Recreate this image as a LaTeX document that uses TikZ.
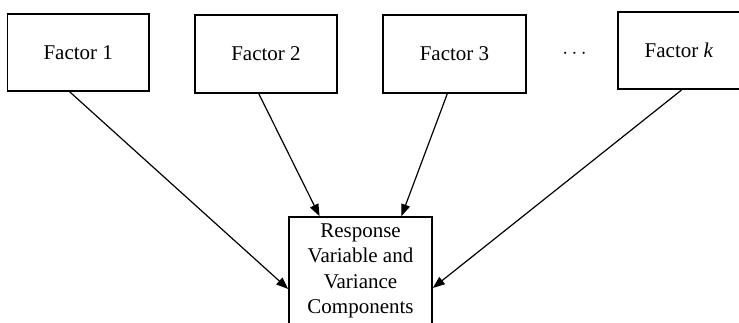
\documentclass[tikz,border=0pt]{standalone}
\usepackage{fontspec}
\setmainfont{Liberation Serif}
\usetikzlibrary{arrows.meta,calc}
\begin{document}
\begin{tikzpicture}[x=1pt,y=-1pt,
  factorbox/.style={draw, line width=1.6pt, rectangle, inner sep=0pt,
    font=\fontsize{21}{25}\selectfont},
  link/.style={line width=1.2pt, -{Triangle[length=12pt,width=9pt]}},
  label/.style={font=\fontsize{21}{25.5}\selectfont, align=center, inner sep=0pt}]
  \useasboundingbox (0,0) rectangle (739,322);

  % factor boxes
  \node[factorbox, minimum width=141.5pt, minimum height=77pt] (f1) at (78.25,52.5) {Factor 1};
  \node[factorbox, minimum width=142pt, minimum height=78pt] (f2) at (266,54) {Factor 2};
  \node[factorbox, minimum width=143pt, minimum height=78pt] (f3) at (454.5,54) {Factor 3};
  \node[factorbox, minimum width=122pt, minimum height=77.5pt] (fk) at (679,50.5) {Factor \textit{k}};
  \node[font=\fontsize{21}{25}\selectfont, inner sep=0pt] (dots) at (574.5,54) {$\cdots$};

  % response box (extends below the page edge)
  \node[draw, line width=1.6pt, rectangle, inner sep=0pt,
        minimum width=143pt, minimum height=144pt] (resp) at (360.5,289) {};
  \node[label, anchor=north] (resptext) at (360.5,223.5)
    {Response\\Variable and\\Variance\\Components};

  % connectors
  \draw[link] ($(f1.south west)!0.44!(f1.south east)$) -- (resp.west);
  \draw[link] ($(f2.south west)!0.45!(f2.south east)$) -- ($(resp.north west)!0.217!(resp.north east)$);
  \draw[link] ($(f3.south west)!0.45!(f3.south east)$) -- ($(resp.north west)!0.783!(resp.north east)$);
  \draw[link] ($(fk.south west)!0.52!(fk.south east)$) -- ($(resp.east)+(0,-1)$);
\end{tikzpicture}
\end{document}
